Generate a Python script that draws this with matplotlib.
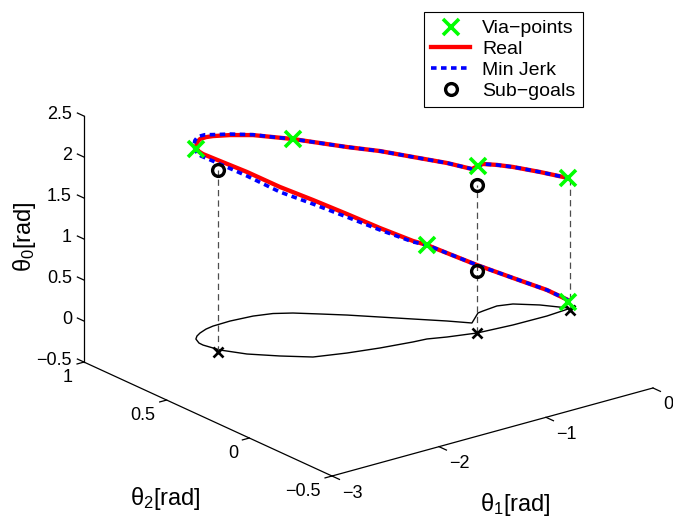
import numpy as np
import matplotlib
matplotlib.use('Agg')
import matplotlib.pyplot as plt

plt.rcParams['font.family'] = ['Liberation Sans', 'DejaVu Sans']
plt.rcParams['mathtext.fontset'] = 'custom'
plt.rcParams['mathtext.rm'] = 'Liberation Sans'
plt.rcParams['mathtext.it'] = 'Liberation Sans:italic'
plt.rcParams['lines.scale_dashes'] = False

# ---------------- data ----------------
# real trajectory: theta1, theta2 (floor projection) and theta0
theta1_real = [-0.014, -0.226, -0.539, -0.852, -1.079, -1.221, -1.341, -1.611, -1.868, -2.118,
               -2.298, -2.466, -2.573, -2.609, -2.607, -2.574, -2.530, -2.474, -2.388, -2.309,
               -2.145, -1.947, -1.798, -1.675, -1.529, -1.384, -1.216, -1.048, -0.875, -0.754,
               -0.591, -0.537, -0.391, -0.272, -0.127, -0.001]
theta2_real = [0.005, -0.005, -0.002, 0.013, 0.048, 0.077, 0.084, 0.109, 0.142, 0.186,
               0.269, 0.360, 0.454, 0.533, 0.559, 0.599, 0.621, 0.639, 0.658, 0.667,
               0.670, 0.659, 0.635, 0.594, 0.525, 0.455, 0.364, 0.273, 0.180, 0.107,
               0.176, 0.181, 0.191, 0.171, 0.102, 0.014]
theta0_real = [0.110, 0.317, 0.573, 0.829, 1.024, 1.146, 1.232, 1.463, 1.695, 1.915,
               2.061, 2.220, 2.305, 2.329, 2.335, 2.335, 2.360, 2.366, 2.341, 2.317,
               2.268, 2.207, 2.152, 2.122, 2.085, 2.049, 2.024, 1.976, 1.927, 1.878,
               1.793, 1.793, 1.720, 1.671, 1.622, 1.585]
# minimum jerk trajectory
theta1_jerk = [-0.014, -0.226, -0.539, -0.852, -1.079, -1.221, -1.341, -1.611, -1.868, -2.118,
               -2.298, -2.466, -2.573, -2.621, -2.619, -2.586, -2.542, -2.486, -2.396, -2.309,
               -2.145, -1.947, -1.798, -1.675, -1.529, -1.384, -1.216, -1.048, -0.875, -0.754,
               -0.591, -0.537, -0.391, -0.272, -0.127, -0.001]
theta2_jerk = [0.005, -0.005, -0.002, 0.013, 0.048, 0.077, 0.084, 0.109, 0.142, 0.186,
               0.269, 0.360, 0.454, 0.538, 0.564, 0.604, 0.626, 0.644, 0.661, 0.667,
               0.670, 0.659, 0.635, 0.594, 0.525, 0.455, 0.364, 0.273, 0.180, 0.107,
               0.176, 0.181, 0.191, 0.171, 0.102, 0.014]
theta0_jerk = [0.110, 0.317, 0.573, 0.829, 1.024, 1.146, 1.220, 1.439, 1.658, 1.866,
               2.000, 2.171, 2.268, 2.305, 2.323, 2.345, 2.384, 2.395, 2.370, 2.335,
               2.280, 2.212, 2.152, 2.122, 2.085, 2.049, 2.024, 1.976, 1.927, 1.878,
               1.793, 1.793, 1.720, 1.671, 1.622, 1.585]
# via-points
via_theta1 = [-2.574, -1.675, -0.591, -0.001, -1.221, -0.014]
via_theta2 = [0.599, 0.594, 0.176, 0.014, 0.077, 0.005]
via_theta0 = [2.320, 2.122, 1.793, 1.585, 1.146, 0.090]
# sub-goals
sub_theta1 = [-2.610, -0.852, -0.852]
sub_theta2 = [0.442, 0.013, 0.013]
sub_theta0 = [2.220, 1.805, 0.756]
# floor markers and vertical drop lines
floor_theta1 = [-2.610, -0.852, -0.015]
floor_theta2 = [0.442, 0.013, -0.007]
drop_top_theta0 = [2.220, 1.805, 1.585]
floor_level = 0.0

x_ticks = [-3, -2, -1, 0]
y_ticks = [-0.5, 0, 0.5, 1]
z_ticks = [-0.5, 0, 0.5, 1, 1.5, 2, 2.5]
x_lim = (-3, 0)
y_lim = (-0.5, 1)
z_lim = (-0.5, 2.5)
legend_labels = ['Via\u2212points', 'Real', 'Min Jerk', 'Sub\u2212goals']

# ---------------- figure ----------------
W, H = 673, 521
fig = plt.figure(figsize=(W / 100, H / 100), dpi=100)
ax = fig.add_axes([-0.2, -0.2, 1.4, 1.4], projection='3d', proj_type='ortho',
                  computed_zorder=False)
ax.set_axis_off()
ax.patch.set_visible(False)
ASPECT = (1.0, 1.0, 0.6487)
ax.view_init(elev=20.79, azim=-127.69)
ax.set_box_aspect(ASPECT, zoom=1.0)

fz = [floor_level] * len(theta1_real)
ax.plot(theta1_real, theta2_real, fz, color='black', lw=1.0, zorder=2, clip_on=False)

for t1, t2, top in zip(floor_theta1, floor_theta2, drop_top_theta0):
    ax.plot([t1, t1], [t2, t2], [floor_level, top], color='0.3', lw=0.9,
            linestyle=(0, (4.5, 3.0)), zorder=3, clip_on=False)

h_real, = ax.plot(theta1_real, theta2_real, theta0_real, color='red', lw=3.1,
                  solid_joinstyle='round', zorder=4, clip_on=False)
h_jerk, = ax.plot(theta1_jerk, theta2_jerk, theta0_jerk, color='blue', lw=2.6,
                  linestyle=(0, (4.0, 3.2)), zorder=5, clip_on=False)
h_via, = ax.plot(via_theta1, via_theta2, via_theta0, linestyle='none', marker='x',
                 color='#00ff00', ms=11, mew=2.6, zorder=7, clip_on=False)
h_sub, = ax.plot(sub_theta1, sub_theta2, sub_theta0, linestyle='none', marker='o',
                 mfc='none', mec='black', ms=8.5, mew=2.4, zorder=8, clip_on=False)
ax.plot(floor_theta1, floor_theta2, [floor_level] * 3, linestyle='none', marker='x',
        color='black', ms=6.5, mew=1.9, zorder=6, clip_on=False)

# axis lines and ticks
ax.plot([x_lim[0], x_lim[1]], [y_lim[0]] * 2, [z_lim[0]] * 2, color='black', lw=0.9, clip_on=False)
ax.plot([x_lim[0]] * 2, [y_lim[0], y_lim[1]], [z_lim[0]] * 2, color='black', lw=0.9, clip_on=False)
ax.plot([x_lim[0]] * 2, [y_lim[1]] * 2, [z_lim[0], z_lim[1]], color='black', lw=0.9, clip_on=False)
for t in x_ticks:
    ax.plot([t, t], [y_lim[0], y_lim[0] - 0.045], [z_lim[0]] * 2, color='black', lw=0.9, clip_on=False)
for t in y_ticks:
    ax.plot([x_lim[0], x_lim[0] - 0.065], [t, t], [z_lim[0]] * 2, color='black', lw=0.9, clip_on=False)
for t in z_ticks:
    ax.plot([x_lim[0]] * 2, [y_lim[1], y_lim[1] + 0.04], [t, t], color='black', lw=0.9, clip_on=False)

ax.set_xlim(*x_lim)
ax.set_ylim(*y_lim)
ax.set_zlim(*z_lim)


def px(x, y, z):
    M = ax.get_proj()
    v = M @ np.array([x, y, z, 1.0])
    d = ax.transData.transform((v[0] / v[3], v[1] / v[3]))
    return np.array([d[0], H - d[1]])


# calibrate scale and position so the axes box lands where the reference has it
zoom = 1.0
fig.canvas.draw()
p0 = px(x_lim[0], y_lim[0], z_lim[0])
p1 = px(x_lim[1], y_lim[0], z_lim[0])
zoom *= np.hypot(321, 88) / np.hypot(*(p1 - p0))
ax.set_box_aspect(ASPECT, zoom=zoom)
fig.canvas.draw()
p0 = px(x_lim[0], y_lim[0], z_lim[0])
shift = np.array([332.0, 476.0]) - p0
pos = ax.get_position(original=True)
ax.set_position([pos.x0 + shift[0] / W, pos.y0 - shift[1] / H, pos.width, pos.height])
fig.canvas.draw()


def lab(v):
    return f'{v:g}'.replace('-', '\u2212')


def ftext(p, s, **kw):
    fig.text(p[0] / W, 1 - p[1] / H, s, **kw)


TFS = 13
for t in x_ticks:
    p = px(t, y_lim[0], z_lim[0]) + np.array([10, 17])
    ftext(p, lab(t), ha='left', va='center', fontsize=TFS)
for t in y_ticks:
    p = px(x_lim[0], t, z_lim[0]) + np.array([-11, 15])
    ftext(p, lab(t), ha='right', va='center', fontsize=TFS)
for t in z_ticks:
    p = px(x_lim[0], y_lim[1], t) + np.array([-12, -2])
    ftext(p, lab(t), ha='right', va='center', fontsize=TFS)

LFS = 17
ftext((515, 504), r'$\mathrm{\theta_1}$[rad]', ha='center', va='center', fontsize=LFS)
ftext((165, 499), r'$\mathrm{\theta_2}$[rad]', ha='center', va='center', fontsize=LFS)
ftext((25, 237), r'$\mathrm{\theta_0}$[rad]', ha='center', va='center', fontsize=LFS, rotation=90)

leg = fig.legend([h_via, h_real, h_jerk, h_sub], legend_labels, loc='upper right',
                 bbox_to_anchor=(583 / W, 1 - 12 / H), bbox_transform=fig.transFigure,
                 frameon=True, fancybox=False, edgecolor='black', framealpha=1,
                 borderpad=0.4, labelspacing=0.16, handlelength=2.0, handletextpad=0.6,
                 borderaxespad=0, fontsize=14)
leg.get_frame().set_linewidth(0.8)

fig.savefig('out.png', dpi=100)
